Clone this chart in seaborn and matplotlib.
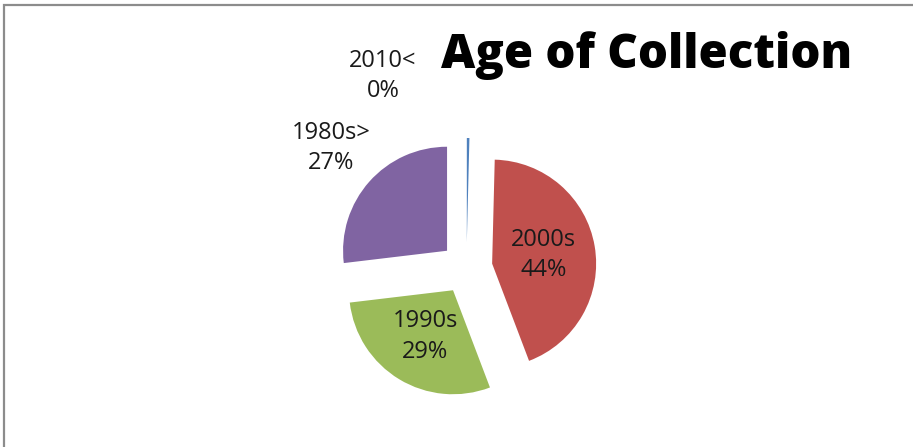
import matplotlib
matplotlib.use("Agg")
import matplotlib.pyplot as plt
import seaborn as sns
import numpy as np
from matplotlib.patches import Rectangle

# ---- data ----
categories = ["2010<", "2000s", "1990s", "1980s>"]
values = [0.4, 44, 29, 27]
colors = ["#4F81BD", "#C0504D", "#9BBB59", "#8064A2"]
title = "Age of Collection"

sns.set_theme(style="white")
plt.rcParams["font.family"] = ["Open Sans", "DejaVu Sans"]

W, H = 913, 447
fig = plt.figure(figsize=(W / 100, H / 100), dpi=100)
fig.patch.set_facecolor("white")

# pie geometry (pixels)
cx_px, cy_px, r_px = 466.5, 268.0, 104.0
ax = fig.add_axes([0, 0, 1, 1])

wedges, _ = ax.pie(values, colors=colors, startangle=90, counterclock=False,
                   explode=[0.25] * len(values), radius=1,
                   wedgeprops=dict(linewidth=0))
ax.set_aspect("auto")
ax.set_xlim(-cx_px / r_px, (W - cx_px) / r_px)
ax.set_ylim(-(H - cy_px) / r_px, cy_px / r_px)
ax.axis("off")

total = sum(values)
placement = {"2010<": None, "2000s": 0.5, "1990s": 0.52, "1980s>": 1.49}
fs = 17
for w, cat, v in zip(wedges, categories, values):
    txt = f"{cat}\n{v / total * 100:.0f}%"
    d = placement[cat]
    if d is None:
        fig.text(383 / W, 1 - 76 / H, txt, ha="center", va="center",
                 fontsize=fs, color="#1a1a1a", linespacing=1.35)
        continue
    th = np.deg2rad((w.theta1 + w.theta2) / 2)
    x0, y0 = w.center
    ax.text(x0 + d * np.cos(th), y0 + d * np.sin(th), txt, ha="center",
            va="center", fontsize=fs, color="#1a1a1a", linespacing=1.35)

fig.text(647 / W, 1 - 68 / H, title, ha="center", va="baseline",
         fontsize=34, fontweight="heavy", color="black")

# chart frame
fig.patches.append(Rectangle((4 / W, -0.1), 1.2, 1 - 5 / H + 0.1,
                             transform=fig.transFigure, fill=False,
                             edgecolor="#8c8c8c", linewidth=1.6))

fig.savefig("out.png", dpi=100)
